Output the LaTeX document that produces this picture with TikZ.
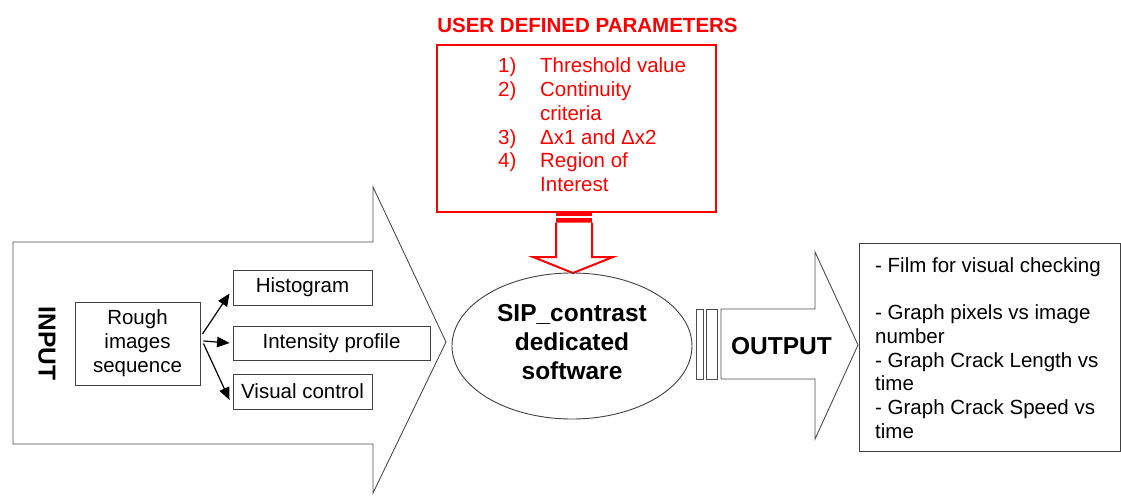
\documentclass[tikz,border=0pt]{standalone}
\usepackage{fontspec}
\setmainfont{Liberation Sans}
\usetikzlibrary{arrows.meta,shapes.geometric}
\begin{document}
\begin{tikzpicture}[x=1pt,y=-1pt,
  box/.style={draw=black!75,line width=0.9pt,inner sep=0pt,align=center,font=\fontsize{20.5}{24}\selectfont},
  bigarrow/.style={draw=black!70,line width=0.9pt,fill=white,line join=miter},
  redline/.style={draw=red,line width=2pt},
  fan/.style={-{Triangle[length=12.5pt,width=10.5pt]},line width=1.2pt,draw=black},
  bigtext/.style={font=\bfseries\fontsize{24.5}{29}\selectfont,inner sep=0pt,align=center},
  normtext/.style={font=\fontsize{20.5}{23.75}\selectfont,inner sep=0pt}
]
\useasboundingbox (0,0) rectangle (1121,495);

% input arrow
\draw[bigarrow] (13,242) -- (373,242) -- (373,187) -- (446,342) -- (373,493) -- (373,444) -- (13,444) -- cycle;
\node[bigtext,rotate=-90] (input) at (47,343.5) {INPUT};

% rough and branch boxes
\node[box,minimum width=125pt,minimum height=83pt] (rough) at (137.5,343.5) {Rough\\images\\sequence};
\node[box,minimum width=139pt,minimum height=35pt] (hist) at (302.5,287.5) {Histogram};
\node[box,minimum width=197pt,minimum height=34pt] (inten) at (331.5,343) {Intensity profile};
\node[box,minimum width=139pt,minimum height=35pt] (vis) at (302.5,391.5) {Visual control};

\draw[fan] ([xshift=2pt,yshift=9.5pt]rough.east) -- ([xshift=-3pt,yshift=-6pt]hist.west);
\draw[fan] ([xshift=3pt,yshift=2.5pt]rough.east) -- ([xshift=-3pt,yshift=0pt]inten.west);
\draw[fan] ([xshift=3pt,yshift=0pt]rough.east) -- ([xshift=-3pt,yshift=-8.5pt]vis.west);

% user defined parameters
\node[font=\bfseries\fontsize{20.5}{24}\selectfont,text=red,inner sep=0pt] (title) at (587.5,25) {USER DEFINED PARAMETERS};
\node[redline,minimum width=279pt,minimum height=167pt,inner sep=0pt] (params) at (576.5,128.5) {};
\node[normtext,text=red,anchor=base west] (plist) at (498,73)
  {\begin{tabular}[t]{@{}p{42pt}@{}l@{}}
   1) & Threshold value\\
   2) & Continuity\\
      & criteria\\
   3) & Δx1 and Δx2\\
   4) & Region of\\
      & Interest
   \end{tabular}};

% red striped down arrow
\fill[red] (556,211.7) rectangle (592,216);
\fill[red] (556,218.3) rectangle (592,222.7);
\draw[redline,fill=white,line join=miter] (556,222.7) -- (556,257) -- (533,257) -- (573,273) -- (613,257) -- (592,257) -- (592,222.7);

% central ellipse
\node[ellipse,draw=black!75,line width=0.9pt,minimum width=240pt,minimum height=146pt,inner sep=0pt] (sip) at (572,346) {};
\node[bigtext,anchor=base] (siptxt) at (572,321)
  {\begin{tabular}[t]{@{}c@{}}SIP\_contrast\\dedicated\\software\end{tabular}};

% output striped arrow
\draw[bigarrow] (696,309) rectangle (703,379);
\draw[bigarrow] (706,309) rectangle (717,379);
\draw[bigarrow] (721,309) -- (815,309) -- (815,252) -- (858,345) -- (815,439) -- (815,379) -- (721,379) -- cycle;
\node[bigtext] (output) at (781.5,346.5) {OUTPUT};

% output box
\node[box,minimum width=261pt,minimum height=208pt] (outbox) at (989.5,347) {};
\node[normtext,anchor=base west] (outtxt) at (875,272)
  {\begin{tabular}[t]{@{}l@{}}
   - Film for visual checking\\
   \\
   - Graph pixels vs image\\
   number\\
   - Graph Crack Length vs\\
   time\\
   - Graph Crack Speed vs\\
   time
   \end{tabular}};
\end{tikzpicture}
\end{document}
